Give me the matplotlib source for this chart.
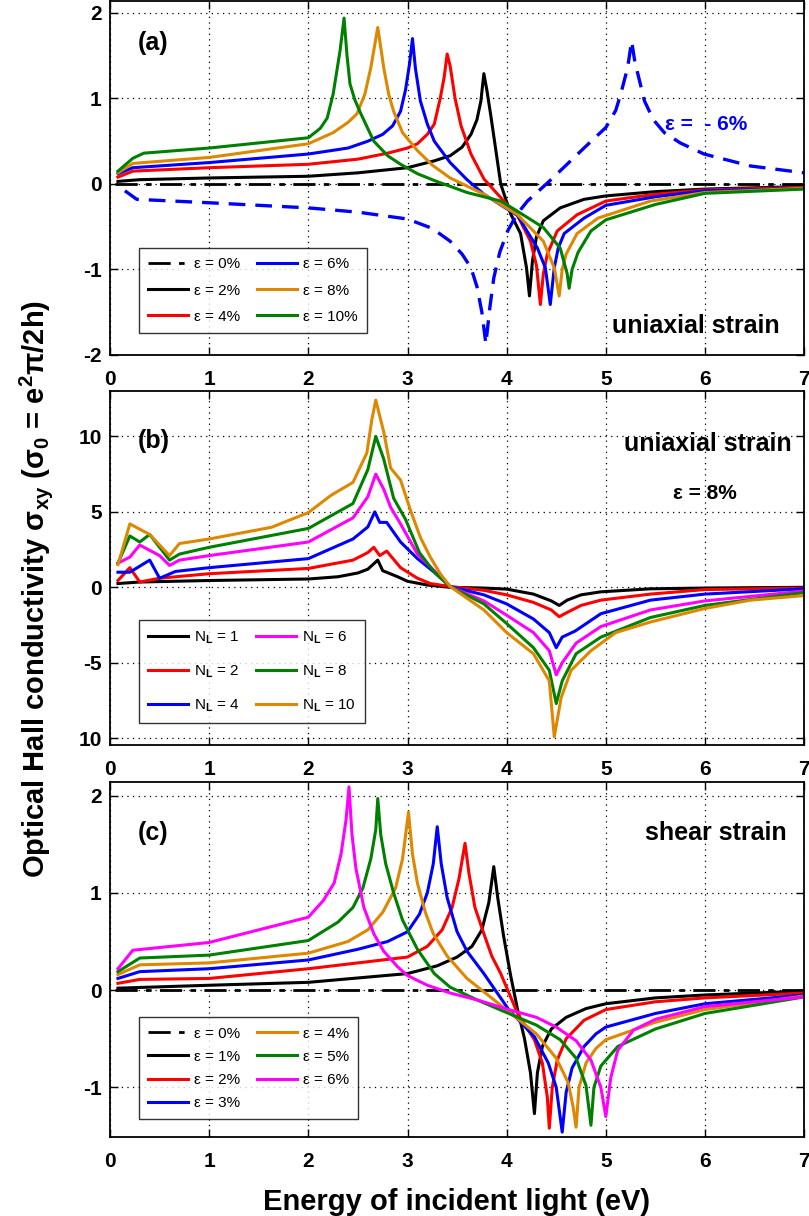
import matplotlib
matplotlib.use('Agg')
import matplotlib.pyplot as plt

plt.rcParams['font.family'] = ['Liberation Sans', 'DejaVu Sans']
plt.rcParams['font.weight'] = 'bold'
plt.rcParams['mathtext.fontset'] = 'custom'
plt.rcParams['mathtext.rm'] = 'Liberation Sans:bold'
plt.rcParams['mathtext.it'] = 'Liberation Sans:bold'
plt.rcParams['mathtext.bf'] = 'Liberation Sans:bold'
plt.rcParams['axes.unicode_minus'] = False

ORANGE = '#dd8800'
GREEN = '#008000'

# ---------------- panel (a): uniaxial strain ----------------
a_e0_x = [0.05, 7.0]
a_e0_y = [0.0, 0.0]
a_e2_x = [0.08, 0.3, 1.0, 2.0, 2.5, 3.0, 3.27, 3.43, 3.55, 3.64, 3.7, 3.74, 3.77, 3.8, 3.84, 3.88, 3.94,
          4.04, 4.14, 4.2, 4.23, 4.26, 4.3, 4.37, 4.54, 4.78, 5.0, 5.5, 6.0, 7.0]
a_e2_y = [0.03, 0.05, 0.07, 0.09, 0.13, 0.19, 0.27, 0.33, 0.43, 0.58, 0.75, 0.97, 1.29, 1.1, 0.8, 0.48, 0.0,
          -0.35, -0.58, -0.98, -1.31, -0.9, -0.62, -0.43, -0.28, -0.18, -0.14, -0.09, -0.06, -0.03]
a_e4_x = [0.08, 0.23, 1.0, 2.0, 2.5, 2.8, 3.0, 3.1, 3.2, 3.27, 3.33, 3.37, 3.4, 3.43, 3.48, 3.54, 3.64, 3.77,
          3.94, 4.11, 4.24, 4.3, 4.34, 4.37, 4.41, 4.51, 4.71, 5.0, 5.5, 6.0, 7.0]
a_e4_y = [0.08, 0.15, 0.19, 0.23, 0.29, 0.36, 0.42, 0.47, 0.58, 0.7, 1.0, 1.25, 1.52, 1.38, 1.0, 0.68, 0.35,
          0.06, -0.16, -0.37, -0.67, -0.95, -1.41, -1.05, -0.82, -0.55, -0.36, -0.2, -0.12, -0.07, -0.04]
a_e6_x = [0.08, 0.23, 1.0, 2.0, 2.4, 2.6, 2.75, 2.85, 2.93, 2.98, 3.02, 3.05, 3.08, 3.13, 3.2, 3.27, 3.43,
          3.6, 3.77, 4.11, 4.31, 4.39, 4.44, 4.48, 4.52, 4.58, 4.78, 5.0, 5.5, 6.0, 7.0]
a_e6_y = [0.12, 0.19, 0.25, 0.35, 0.42, 0.5, 0.58, 0.68, 0.85, 1.1, 1.4, 1.7, 1.35, 0.97, 0.7, 0.5, 0.25,
          0.05, -0.12, -0.37, -0.75, -0.98, -1.41, -0.98, -0.75, -0.58, -0.4, -0.25, -0.15, -0.08, -0.05]
a_e8_x = [0.08, 0.23, 1.0, 2.0, 2.25, 2.4, 2.49, 2.57, 2.63, 2.7, 2.73, 2.76, 2.81, 2.86, 2.95, 3.1, 3.25,
          3.43, 3.77, 4.11, 4.37, 4.48, 4.53, 4.56, 4.6, 4.71, 4.92, 5.45, 6.0, 7.0]
a_e8_y = [0.13, 0.24, 0.31, 0.47, 0.6, 0.72, 0.82, 1.05, 1.36, 1.83, 1.6, 1.36, 1.05, 0.85, 0.6, 0.39, 0.22,
          0.07, -0.12, -0.36, -0.67, -0.98, -1.31, -1.0, -0.82, -0.58, -0.4, -0.2, -0.1, -0.05]
a_e10_x = [0.08, 0.23, 0.34, 1.0, 2.0, 2.12, 2.19, 2.25, 2.32, 2.36, 2.39, 2.42, 2.47, 2.53, 2.66, 2.8, 2.93,
           3.1, 3.27, 3.6, 3.94, 4.11, 4.37, 4.54, 4.61, 4.63, 4.66, 4.72, 4.85, 5.0, 5.5, 6.0, 7.0]
a_e10_y = [0.15, 0.3, 0.36, 0.42, 0.54, 0.65, 0.77, 1.05, 1.56, 1.94, 1.5, 1.17, 0.98, 0.82, 0.5, 0.33, 0.23,
           0.12, 0.04, -0.1, -0.2, -0.32, -0.51, -0.75, -1.05, -1.22, -1.0, -0.8, -0.55, -0.42, -0.24, -0.11,
           -0.06]
a_em6_x = [0.15, 0.27, 1.0, 2.0, 2.5, 3.0, 3.25, 3.43, 3.55, 3.64, 3.7, 3.75, 3.79, 3.83, 3.87, 3.93, 4.01,
           4.1, 4.21, 4.41, 4.6, 4.78, 5.0, 5.1, 5.15, 5.22, 5.26, 5.29, 5.32, 5.39, 5.48, 5.59, 5.75, 5.99,
           6.46, 7.0]
a_em6_y = [-0.08, -0.18, -0.22, -0.28, -0.33, -0.41, -0.52, -0.67, -0.82, -0.98, -1.2, -1.5, -1.87, -1.45,
           -1.1, -0.8, -0.55, -0.36, -0.2, 0.01, 0.22, 0.42, 0.66, 0.86, 1.05, 1.36, 1.67, 1.45, 1.3, 0.97,
           0.75, 0.6, 0.48, 0.35, 0.21, 0.13]

# ---------------- panel (b): uniaxial strain, eps = 8 % ----------------
b_n1_x = [0.08, 0.3, 1.0, 2.0, 2.3, 2.5, 2.6, 2.7, 2.75, 2.9, 3.0, 3.2, 3.43, 3.77, 4.0, 4.27, 4.45, 4.53,
          4.61, 4.75, 4.95, 5.45, 6.0, 7.0]
b_n1_y = [0.25, 0.35, 0.45, 0.55, 0.7, 0.95, 1.2, 1.8, 1.1, 0.7, 0.4, 0.15, 0.0, -0.05, -0.12, -0.45, -0.9,
          -1.2, -0.85, -0.5, -0.3, -0.1, -0.05, 0.0]
b_n2_x = [0.08, 0.2, 0.3, 0.5, 1.0, 2.0, 2.45, 2.6, 2.66, 2.72, 2.79, 2.93, 3.1, 3.23, 3.43, 3.77, 4.0,
          4.27, 4.45, 4.53, 4.6, 4.75, 4.95, 5.45, 6.0, 7.0]
b_n2_y = [0.45, 1.3, 0.35, 0.6, 0.9, 1.25, 1.8, 2.3, 2.65, 2.1, 2.4, 1.3, 0.6, 0.25, 0.05, -0.2, -0.5,
          -1.0, -1.5, -1.95, -1.7, -1.2, -0.85, -0.45, -0.15, -0.05]
b_n4_x = [0.08, 0.2, 0.4, 0.5, 0.66, 1.0, 2.0, 2.45, 2.6, 2.67, 2.72, 2.79, 2.93, 3.1, 3.27, 3.43, 3.77,
          4.0, 4.27, 4.43, 4.5, 4.56, 4.69, 4.95, 5.45, 6.0, 7.0]
b_n4_y = [1.0, 1.0, 1.8, 0.6, 1.05, 1.3, 1.9, 3.2, 4.0, 5.0, 4.3, 4.3, 3.0, 1.9, 1.0, 0.05, -0.5,
          -1.1, -2.1, -3.0, -4.0, -3.3, -2.9, -1.75, -0.85, -0.45, -0.1]
b_n6_x = [0.08, 0.2, 0.3, 0.5, 0.6, 0.7, 1.0, 2.0, 2.45, 2.6, 2.68, 2.76, 2.83, 2.93, 3.1, 3.27, 3.43,
          3.77, 4.0, 4.27, 4.43, 4.5, 4.56, 4.7, 4.95, 5.45, 6.0, 7.0]
b_n6_y = [1.6, 2.0, 2.8, 2.1, 1.45, 1.8, 2.1, 3.0, 4.6, 6.0, 7.5, 6.5, 5.3, 4.2, 2.2, 1.1, 0.05,
          -0.9, -1.85, -3.0, -4.2, -5.8, -5.0, -3.7, -2.6, -1.5, -0.9, -0.25]
b_n8_x = [0.08, 0.2, 0.3, 0.4, 0.6, 0.7, 1.0, 2.0, 2.45, 2.6, 2.68, 2.76, 2.86, 2.98, 3.12, 3.27, 3.43,
          3.77, 4.0, 4.27, 4.43, 4.5, 4.56, 4.7, 4.95, 5.45, 6.0, 7.0]
b_n8_y = [1.6, 3.4, 3.0, 3.5, 1.8, 2.2, 2.65, 3.9, 5.55, 7.8, 10.0, 8.5, 5.9, 4.5, 2.3, 1.0, 0.05,
          -1.1, -2.4, -4.0, -5.5, -7.7, -6.2, -4.4, -3.3, -2.0, -1.2, -0.35]
b_n10_x = [0.08, 0.2, 0.4, 0.6, 0.7, 1.0, 1.63, 2.0, 2.23, 2.45, 2.59, 2.64, 2.68, 2.76, 2.83, 2.93, 3.03,
           3.13, 3.23, 3.33, 3.43, 3.77, 4.0, 4.27, 4.43, 4.48, 4.55, 4.65, 4.85, 5.1, 5.45, 6.0, 6.46, 7.0]
b_n10_y = [1.5, 4.2, 3.5, 2.1, 2.9, 3.2, 3.98, 4.95, 6.1, 6.95, 8.9, 11.1, 12.4, 10.3, 7.9, 7.1, 5.1,
           3.3, 2.0, 0.9, 0.05, -1.5, -3.0, -4.4, -6.2, -9.9, -7.3, -5.5, -4.2, -3.0, -2.3, -1.4, -0.85, -0.55]

# ---------------- panel (c): shear strain ----------------
c_e0_x = [0.05, 7.0]
c_e0_y = [0.0, 0.0]
c_e1_x = [0.08, 1.0, 2.0, 3.0, 3.3, 3.5, 3.65, 3.75, 3.82, 3.87, 3.91, 3.97, 4.04, 4.11, 4.18, 4.24, 4.28,
          4.31, 4.36, 4.45, 4.6, 4.8, 5.0, 5.5, 6.0, 7.0]
c_e1_y = [0.02, 0.05, 0.08, 0.17, 0.25, 0.34, 0.45, 0.62, 0.9, 1.27, 0.95, 0.55, 0.15, -0.2, -0.5, -0.85,
          -1.27, -0.85, -0.58, -0.4, -0.28, -0.19, -0.14, -0.08, -0.05, -0.01]
c_e2_x = [0.08, 0.3, 1.0, 2.0, 3.0, 3.2, 3.35, 3.45, 3.52, 3.58, 3.62, 3.68, 3.77, 3.85, 3.94, 4.11, 4.28,
          4.36, 4.41, 4.43, 4.46, 4.51, 4.6, 4.78, 5.0, 5.5, 6.0, 7.0]
c_e2_y = [0.07, 0.11, 0.12, 0.22, 0.34, 0.45, 0.62, 0.85, 1.15, 1.51, 1.2, 0.85, 0.58, 0.35, 0.17, -0.24,
          -0.51, -0.75, -1.1, -1.42, -1.0, -0.72, -0.5, -0.31, -0.2, -0.12, -0.08, -0.03]
c_e3_x = [0.08, 0.3, 1.0, 2.0, 2.5, 2.8, 3.0, 3.12, 3.2, 3.26, 3.3, 3.34, 3.4, 3.5, 3.6, 3.77, 4.02, 4.28,
          4.42, 4.5, 4.56, 4.6, 4.66, 4.78, 4.9, 5.0, 5.5, 6.0, 7.0]
c_e3_y = [0.12, 0.19, 0.22, 0.31, 0.42, 0.5, 0.6, 0.78, 1.0, 1.3, 1.68, 1.3, 0.95, 0.6, 0.4, 0.17, -0.2,
          -0.48, -0.75, -1.0, -1.46, -1.05, -0.8, -0.58, -0.45, -0.38, -0.24, -0.14, -0.05]
c_e4_x = [0.08, 0.3, 1.0, 2.0, 2.4, 2.6, 2.75, 2.88, 2.95, 3.01, 3.05, 3.1, 3.18, 3.26, 3.4, 3.6, 4.02, 4.3,
          4.5, 4.62, 4.67, 4.7, 4.73, 4.8, 4.9, 5.0, 5.5, 6.0, 7.0]
c_e4_y = [0.16, 0.26, 0.28, 0.38, 0.5, 0.62, 0.8, 1.05, 1.35, 1.83, 1.4, 1.1, 0.8, 0.58, 0.35, 0.12, -0.22,
          -0.45, -0.7, -0.95, -1.2, -1.41, -1.0, -0.75, -0.6, -0.51, -0.33, -0.2, -0.06]
c_e5_x = [0.08, 0.3, 1.0, 2.0, 2.3, 2.45, 2.55, 2.63, 2.68, 2.7, 2.73, 2.78, 2.86, 2.95, 3.1, 3.27, 3.43,
          3.7, 4.02, 4.3, 4.54, 4.7, 4.8, 4.85, 4.88, 4.95, 5.12, 5.5, 6.0, 7.0]
c_e5_y = [0.19, 0.33, 0.36, 0.51, 0.7, 0.85, 1.05, 1.35, 1.65, 1.97, 1.6, 1.3, 1.0, 0.72, 0.42, 0.17, 0.03,
          -0.1, -0.24, -0.36, -0.51, -0.7, -0.98, -1.39, -1.0, -0.78, -0.58, -0.4, -0.24, -0.07]
c_e6_x = [0.08, 0.23, 1.0, 2.0, 2.15, 2.26, 2.33, 2.38, 2.41, 2.44, 2.48, 2.56, 2.66, 2.76, 2.9, 3.0, 3.2,
          3.43, 3.7, 4.02, 4.3, 4.5, 4.7, 4.85, 4.95, 5.0, 5.05, 5.12, 5.28, 5.5, 6.0, 7.0]
c_e6_y = [0.22, 0.41, 0.49, 0.75, 0.92, 1.1, 1.4, 1.75, 2.09, 1.6, 1.25, 0.85, 0.58, 0.4, 0.24, 0.15, 0.05,
          -0.03, -0.1, -0.2, -0.28, -0.38, -0.52, -0.72, -1.0, -1.3, -0.9, -0.62, -0.41, -0.3, -0.17, -0.07]

x_ticks = [0, 1, 2, 3, 4, 5, 6, 7]
a_yticks = [-2, -1, 0, 1, 2]
b_yticks = [-10, -5, 0, 5, 10]
b_yticklabels = ['10', '-5', '0', '5', '10']
c_yticks = [-1, 0, 1, 2]

fig = plt.figure(figsize=(8.09, 12.16), dpi=100)
ax_a = fig.add_axes([0.136, 0.7081, 0.858, 0.2911])
ax_b = fig.add_axes([0.136, 0.3873, 0.858, 0.2911])
ax_c = fig.add_axes([0.136, 0.0650, 0.858, 0.2919])


def style(ax, ylim, yticks):
    ax.set_xlim(0, 7)
    ax.set_ylim(*ylim)
    ax.set_xticks(x_ticks)
    ax.set_yticks(yticks)
    ax.grid(True, color='black', linestyle=(0, (1, 3.5)), linewidth=0.9)
    ax.tick_params(direction='in', top=True, right=True, length=6, width=1, labelsize=15)
    ax.tick_params(axis='x', pad=11)
    ax.tick_params(axis='y', pad=6)
    for s in ax.spines.values():
        s.set_linewidth(1.3)


lw = 2.2
leg_kw = dict(ncol=2, frameon=True, fancybox=False, edgecolor='black', borderaxespad=0,
              prop={'family': 'Liberation Sans', 'weight': 'normal', 'size': 11},
              handlelength=2.6, handletextpad=0.4, columnspacing=1.1, borderpad=0.6)

# panel (a)
l0, = ax_a.plot(a_e0_x, a_e0_y, color='black', lw=2, dashes=(8, 3, 2, 3))
l2, = ax_a.plot(a_e2_x, a_e2_y, color='black', lw=lw)
l4, = ax_a.plot(a_e4_x, a_e4_y, color='red', lw=lw)
l6, = ax_a.plot(a_e6_x, a_e6_y, color='blue', lw=lw)
l8, = ax_a.plot(a_e8_x, a_e8_y, color=ORANGE, lw=lw)
l10, = ax_a.plot(a_e10_x, a_e10_y, color=GREEN, lw=lw)
ax_a.plot(a_em6_x, a_em6_y, color='blue', lw=2.4, dashes=(5, 3))
style(ax_a, (-2, 2.14), a_yticks)
leg = ax_a.legend([l0, l2, l4, l6, l8, l10],
                  ['ε = 0%', 'ε = 2%', 'ε = 4%', 'ε = 6%', 'ε = 8%', 'ε = 10%'],
                  loc='lower left', bbox_to_anchor=(0.042, 0.062), labelspacing=0.8, **leg_kw)
leg.get_frame().set_linewidth(1.0)
ax_a.text(0.04, 0.88, '(a)', transform=ax_a.transAxes, fontsize=18, va='center')
ax_a.text(5.6, 0.69, 'ε =  - 6%', color='blue', fontsize=15, va='center')
ax_a.text(6.75, -1.66, 'uniaxial strain', fontsize=18, ha='right', va='center')

# panel (b)
hb = []
for xs, ys, c in [(b_n1_x, b_n1_y, 'black'), (b_n2_x, b_n2_y, 'red'), (b_n4_x, b_n4_y, 'blue'),
                  (b_n6_x, b_n6_y, 'magenta'), (b_n8_x, b_n8_y, GREEN), (b_n10_x, b_n10_y, ORANGE)]:
    h, = ax_b.plot(xs, ys, color=c, lw=lw)
    hb.append(h)
style(ax_b, (-10.45, 13), b_yticks)
ax_b.set_yticklabels(b_yticklabels)
leg = ax_b.legend(hb, ['N$_L$ = 1', 'N$_L$ = 2', 'N$_L$ = 4', 'N$_L$ = 6', 'N$_L$ = 8', 'N$_L$ = 10'],
                  loc='lower left', bbox_to_anchor=(0.042, 0.062), labelspacing=1.15, **leg_kw)
leg.get_frame().set_linewidth(1.0)
ax_b.text(0.04, 0.86, '(b)', transform=ax_b.transAxes, fontsize=18, va='center')
ax_b.text(6.87, 9.5, 'uniaxial strain', fontsize=18, ha='right', va='center')
ax_b.text(6.0, 6.2, 'ε = 8%', fontsize=15, ha='center', va='center')

# panel (c)
hc = []
h, = ax_c.plot(c_e0_x, c_e0_y, color='black', lw=2, dashes=(8, 3, 2, 3))
hc.append(h)
for xs, ys, c in [(c_e1_x, c_e1_y, 'black'), (c_e2_x, c_e2_y, 'red'), (c_e3_x, c_e3_y, 'blue'),
                  (c_e4_x, c_e4_y, ORANGE), (c_e5_x, c_e5_y, GREEN), (c_e6_x, c_e6_y, 'magenta')]:
    h, = ax_c.plot(xs, ys, color=c, lw=lw)
    hc.append(h)
style(ax_c, (-1.51, 2.14), c_yticks)
leg = ax_c.legend(hc, ['ε = 0%', 'ε = 1%', 'ε = 2%', 'ε = 3%', 'ε = 4%', 'ε = 5%', 'ε = 6%'],
                  loc='lower left', bbox_to_anchor=(0.042, 0.05), labelspacing=0.6, **leg_kw)
leg.get_frame().set_linewidth(1.0)
ax_c.text(0.04, 0.856, '(c)', transform=ax_c.transAxes, fontsize=18, va='center')
ax_c.text(6.82, 1.62, 'shear strain', fontsize=18, ha='right', va='center')

fig.text(0.045, 0.516, 'Optical Hall conductivity σ$_{xy}$ (σ$_0$ = e$^2$π/2h)',
         rotation=90, fontsize=21, ha='center', va='center')
fig.text(0.564, 0.0115, 'Energy of incident light (eV)', fontsize=21, ha='center', va='center')

fig.savefig('out.png', dpi=100)
